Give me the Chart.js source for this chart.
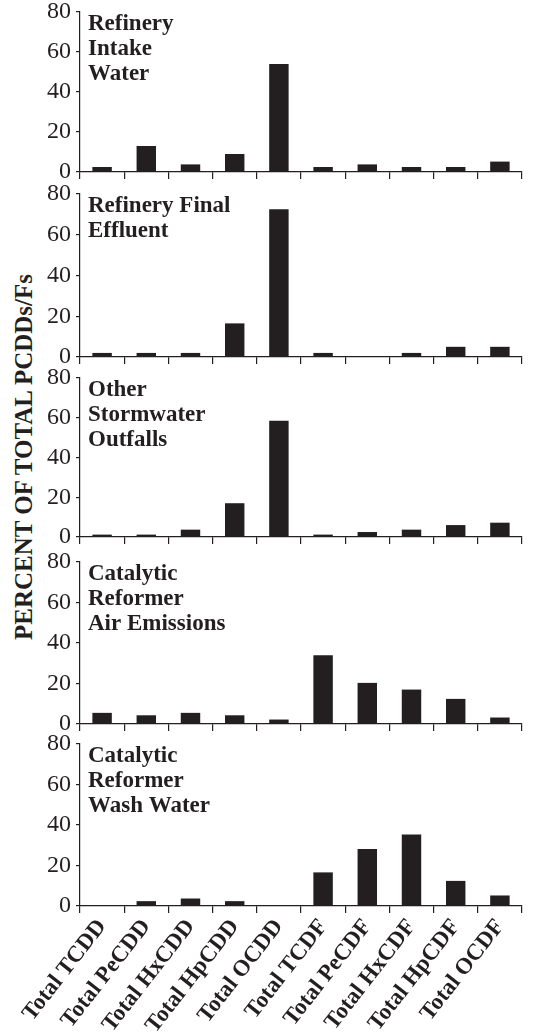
<!DOCTYPE html>
<html>
<head>
<meta charset="utf-8">
<script src="https://cdn.jsdelivr.net/npm/chart.js@4.4.0/dist/chart.umd.min.js"></script>
<style>
    body { margin: 0; background: #fff; }
    #wrap { position: relative; width: 542px; height: 1035px; overflow: hidden; background: #fff; }
    #wrap canvas { position: absolute; left: 0; }
    #ytitle {
        position: absolute; left: 24px; top: 457px;
        transform: translate(-50%, -50%) rotate(-90deg);
        font: bold 25px "Liberation Serif", "Times New Roman", serif;
        color: #231f20; white-space: nowrap;
    }
</style>
</head>
<body>
<div id="wrap">
    <div id="ytitle">PERCENT OF TOTAL PCDDs/Fs</div>
</div>
<script>
const categories = ['Total TCDD', 'Total PeCDD', 'Total HxCDD', 'Total HpCDD', 'Total OCDD',
    'Total TCDF', 'Total PeCDF', 'Total HxCDF', 'Total HpCDF', 'Total OCDF'];

const intakeWater = [2.5, 13, 3.8, 9, 54, 2.5, 3.8, 2.5, 2.5, 5.2];
const finalEffluent = [2, 2, 2, 16.5, 72.5, 2, 0, 2, 5, 5];
const stormwater = [1.2, 1.2, 3.7, 17, 58.5, 1.2, 2.5, 3.7, 6, 7.2];
const airEmissions = [5.5, 4.3, 5.5, 4.3, 2.2, 34, 20.3, 17, 12.4, 3.2];
const washWater = [0, 2.4, 3.7, 2.4, 0, 16.6, 28.2, 35.3, 12.4, 5.2];

const yTicks = [0, 20, 40, 60, 80];

const panelTitles = [
    ['Refinery', 'Intake', 'Water'],
    ['Refinery Final', 'Effluent'],
    ['Other', 'Stormwater', 'Outfalls'],
    ['Catalytic', 'Reformer', 'Air Emissions'],
    ['Catalytic', 'Reformer', 'Wash Water']
];
const panelData = [intakeWater, finalEffluent, stormwater, airEmissions, washWater];

// plot area top/bottom of each panel, in page pixels
const plotTops = [12, 194, 378, 562, 744];
const plotBottoms = [172, 357, 537, 724, 906];

const ink = '#231f20';
const serif = '"Liberation Serif", "Times New Roman", serif';
const padTop = 14;
const padBottom = 16;
const tickLen = 7;

const titlePlugin = {
    id: 'panelTitle',
    afterDraw(chart, args, opts) {
        const ctx = chart.ctx;
        const area = chart.chartArea;
        ctx.save();
        ctx.fillStyle = ink;
        ctx.font = 'bold 23px ' + serif;
        ctx.textBaseline = 'alphabetic';
        opts.lines.forEach((line, i) => {
            ctx.fillText(line, area.left + 8, area.top + 18 + i * 25);
        });
        ctx.restore();
    }
};

const wrap = document.getElementById('wrap');

panelData.forEach((values, i) => {
    const last = i === panelData.length - 1;
    const plotH = plotBottoms[i] - plotTops[i];
    const top = plotTops[i] - padTop;
    const height = last ? 1035 - top : padTop + plotH + padBottom;

    const canvas = document.createElement('canvas');
    canvas.width = 542;
    canvas.height = height;
    canvas.style.top = top + 'px';
    wrap.appendChild(canvas);

    new Chart(canvas.getContext('2d'), {
        type: 'bar',
        data: {
            labels: categories,
            datasets: [{
                data: values,
                backgroundColor: ink,
                borderWidth: 0,
                barPercentage: 0.44,
                categoryPercentage: 1
            }]
        },
        options: {
            responsive: false,
            animation: false,
            devicePixelRatio: 1,
            layout: { padding: { top: padTop, right: 20, left: 0, bottom: 0 } },
            plugins: {
                legend: { display: false },
                tooltip: { enabled: false },
                panelTitle: { lines: panelTitles[i] }
            },
            scales: {
                x: {
                    grid: { offset: true, drawOnChartArea: false, drawTicks: true, tickLength: tickLen, color: ink, lineWidth: 1.2 },
                    border: { display: true, color: ink, width: 1.2 },
                    ticks: {
                        display: last,
                        autoSkip: false,
                        maxRotation: 52,
                        minRotation: 52,
                        padding: 1,
                        color: ink,
                        font: { family: serif, size: 23, weight: 'bold' }
                    },
                    afterFit(scale) {
                        scale.height = height - padTop - plotH;
                        scale.paddingLeft = 0;
                        scale.paddingRight = 0;
                    }
                },
                y: {
                    min: 0,
                    max: 80,
                    afterBuildTicks(scale) {
                        scale.ticks = yTicks.map(v => ({ value: v }));
                    },
                    grid: { drawOnChartArea: false, drawTicks: true, tickLength: 4, color: ink, lineWidth: 1.2 },
                    border: { display: true, color: ink, width: 1.2 },
                    ticks: {
                        padding: 5,
                        color: ink,
                        font: { family: serif, size: 24 }
                    },
                    afterFit(scale) {
                        scale.width = 80;
                        scale.paddingTop = 0;
                        scale.paddingBottom = 0;
                    }
                }
            }
        },
        plugins: [titlePlugin]
    });
});
</script>
</body>
</html>
